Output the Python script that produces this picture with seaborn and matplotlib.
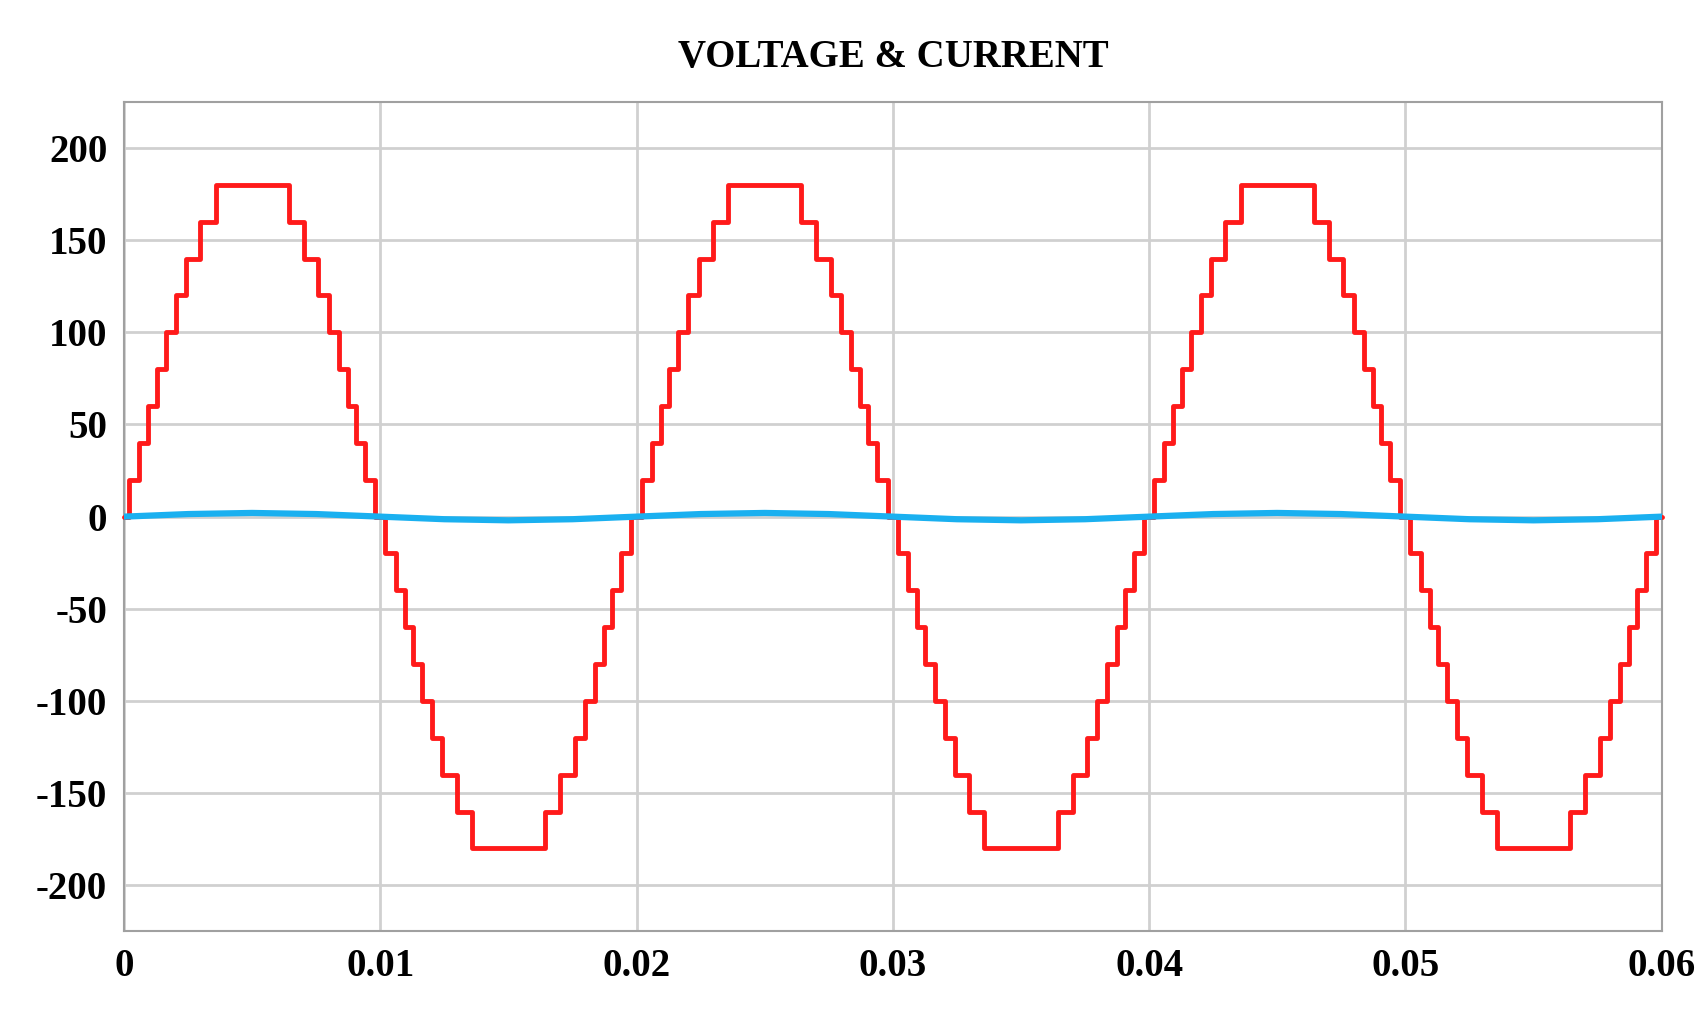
import numpy as np
import pandas as pd
import matplotlib
matplotlib.use("Agg")
import matplotlib.pyplot as plt
import seaborn as sns

# switching instants within a quarter period (ms) and step levels
switch_ms = [0.2, 0.6, 0.95, 1.27, 1.63, 2.02, 2.42, 2.98, 3.57]
levels = [20, 40, 60, 80, 100, 120, 140, 160, 180]
period_ms = 20.0
n_cycles = 3
# current samples (every 2.5 ms)
cur_t_ms = [0, 2.5, 5, 7.5, 10, 12.5, 15, 17.5, 20, 22.5, 25, 27.5, 30,
            32.5, 35, 37.5, 40, 42.5, 45, 47.5, 50, 52.5, 55, 57.5, 60]
cur_val = [0, 1.4, 2, 1.4, 0, -1.4, -2, -1.4, 0, 1.4, 2, 1.4, 0,
           -1.4, -2, -1.4, 0, 1.4, 2, 1.4, 0, -1.4, -2, -1.4, 0]

ts, vs = [0.0], [0.0]
down_levels = list(reversed([0] + levels[:-1]))
for c in range(n_cycles):
    base = c * period_ms
    for sign, off in [(1, 0.0), (-1, period_ms / 2)]:
        for t, v in zip(switch_ms, levels):
            ts.append(base + off + t); vs.append(sign * v)
        for t, v in zip(reversed(switch_ms), down_levels):
            ts.append(base + off + period_ms / 2 - t); vs.append(sign * v)
ts.append(n_cycles * period_ms)
vs.append(0.0)
volt = pd.DataFrame({"t": np.array(ts) / 1000, "v": vs})
cur = pd.DataFrame({"t": np.array(cur_t_ms) / 1000, "i": cur_val})

sns.set_style("white")
plt.rcParams["font.family"] = ["Liberation Serif", "DejaVu Serif"]
plt.rcParams["axes.unicode_minus"] = False
fig = plt.figure(figsize=(16.99, 10.19), dpi=100)
ax = fig.add_axes([0.073, 0.086, 0.905, 0.814])
ax.step(volt["t"], volt["v"], where="post", color="#ff1a1a", lw=3.5, zorder=3, clip_on=False)
sns.lineplot(data=cur, x="t", y="i", ax=ax, color="#1ab0f0", lw=4.5, zorder=4)
ax.set_xlim(0, 0.06)
ax.set_ylim(-225, 225)
ax.set_xticks([0, 0.01, 0.02, 0.03, 0.04, 0.05, 0.06])
ax.set_xticklabels(["0", "0.01", "0.02", "0.03", "0.04", "0.05", "0.06"])
ax.set_yticks(range(-200, 201, 50))
ax.grid(True, color="#d0d0d0", lw=2)
ax.set_axisbelow(True)
for s in ax.spines.values():
    s.set_color("#a0a0a0"); s.set_linewidth(1.5)
ax.tick_params(labelsize=28, length=0, pad=12, labelcolor="black")
for lab in ax.get_xticklabels() + ax.get_yticklabels():
    lab.set_fontweight("bold")
ax.set_xlabel(""); ax.set_ylabel("")
ax.set_title("VOLTAGE & CURRENT", fontsize=28, fontweight="bold", pad=25, color="black")
fig.savefig("out.png", dpi=100)
